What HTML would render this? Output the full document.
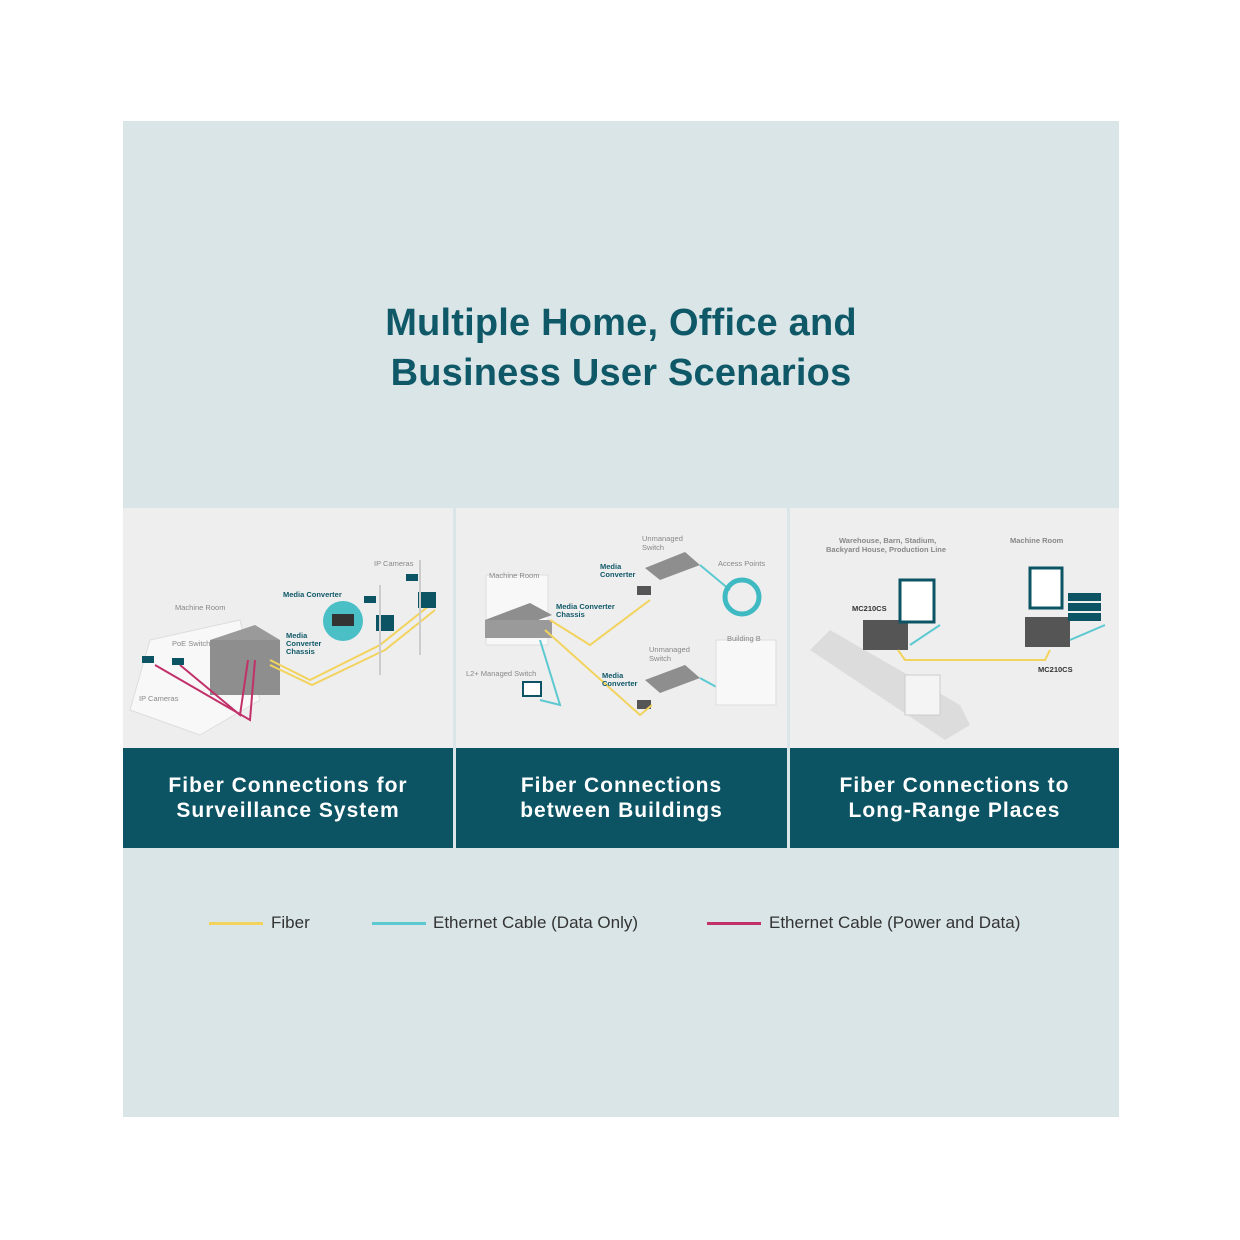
<!DOCTYPE html>
<html><head><meta charset="utf-8"><style>
body{margin:0;width:1240px;height:1240px;background:#fff;position:relative;font-family:"Liberation Sans",sans-serif;overflow:hidden}
.bg{position:absolute;left:123px;top:121px;width:996px;height:996px;background:#d9e5e6}
.title{position:absolute;left:123px;width:996px;top:298px;text-align:center;color:#0f5868;font-size:38px;line-height:50px;font-weight:bold;letter-spacing:0.2px}
.p{position:absolute;top:508px;height:240px;background:#eeeeee}
.b{position:absolute;top:748px;height:100px;background:#0c5464;color:#fff;font-weight:bold;font-size:21px;line-height:25px;text-align:center;letter-spacing:1px;display:flex;align-items:center;justify-content:center}
.lg{position:absolute;top:912px;font-size:17px;color:#333;line-height:22px}
.ln{position:absolute;top:922px;height:3px;width:54px}
svg{position:absolute;left:0;top:0}
.t{font-family:"Liberation Sans",sans-serif;font-size:7.5px;fill:#888}
.tb{font-family:"Liberation Sans",sans-serif;font-size:7.5px;fill:#0f5868;font-weight:bold}
</style></head><body>
<div class="bg"></div>
<div class="title">Multiple Home, Office and<br>Business User Scenarios</div>
<div class="p" style="left:123px;width:330px"></div>
<div class="p" style="left:456px;width:331px"></div>
<div class="p" style="left:790px;width:329px"></div>
<div class="b" style="left:123px;width:330px">Fiber Connections for<br>Surveillance System</div>
<div class="b" style="left:456px;width:331px">Fiber Connections<br>between Buildings</div>
<div class="b" style="left:790px;width:329px">Fiber Connections to<br>Long-Range Places</div>
<svg width="1240" height="1240">
<!-- panel 1 -->
<polygon points="130,710 150,640 240,620 260,700 200,735" fill="#f8f8f8" stroke="#ddd"/>
<polygon points="210,640 255,625 280,640 235,655" fill="#9a9a9a"/>
<rect x="210" y="640" width="70" height="55" fill="#8e8e8e"/>
<polyline points="155,665 250,720 255,660" fill="none" stroke="#c2306a" stroke-width="2"/>
<polyline points="180,665 240,715 248,660" fill="none" stroke="#c2306a" stroke-width="2"/>
<polyline points="270,660 310,680 380,645 430,605" fill="none" stroke="#f2d35e" stroke-width="2"/>
<polyline points="270,665 312,685 385,650 435,610" fill="none" stroke="#f2d35e" stroke-width="2"/>
<circle cx="343" cy="621" r="20" fill="#4bbfc6"/><rect x="332" y="614" width="22" height="12" fill="#333"/>
<rect x="376" y="615" width="18" height="16" fill="#0c5464"/><rect x="418" y="592" width="18" height="16" fill="#0c5464"/>
<line x1="380" y1="585" x2="380" y2="675" stroke="#ccc" stroke-width="2"/><line x1="420" y1="560" x2="420" y2="655" stroke="#ccc" stroke-width="2"/>
<rect x="142" y="656" width="12" height="7" fill="#0c5464"/><rect x="172" y="658" width="12" height="7" fill="#0c5464"/>
<rect x="364" y="596" width="12" height="7" fill="#0c5464"/><rect x="406" y="574" width="12" height="7" fill="#0c5464"/>
<text class="t" x="175" y="610">Machine Room</text><text class="t" x="374" y="566">IP Cameras</text>
<text class="t" x="139" y="701">IP Cameras</text><text class="t" x="172" y="646">PoE Switch</text>
<text class="tb" x="283" y="597">Media Converter</text>
<text class="tb" x="286" y="638">Media</text><text class="tb" x="286" y="646">Converter</text><text class="tb" x="286" y="654">Chassis</text>
<!-- panel 2 -->
<rect x="486" y="575" width="62" height="70" fill="#f8f8f8" stroke="#ddd"/>
<polygon points="485,620 530,603 552,615 505,632" fill="#8e8e8e"/><rect x="485" y="620" width="67" height="18" fill="#9a9a9a"/>
<polygon points="645,568 685,552 700,565 660,580" fill="#8e8e8e"/>
<polygon points="645,680 685,665 700,678 660,693" fill="#8e8e8e"/>
<rect x="637" y="586" width="14" height="9" fill="#555"/><rect x="637" y="700" width="14" height="9" fill="#555"/>
<polyline points="550,620 590,645 650,600" fill="none" stroke="#f2d35e" stroke-width="2"/>
<polyline points="545,630 640,715 652,705" fill="none" stroke="#f2d35e" stroke-width="2"/>
<polyline points="700,565 730,590" fill="none" stroke="#5cc9d0" stroke-width="2"/>
<polyline points="700,678 740,700 770,685" fill="none" stroke="#5cc9d0" stroke-width="2"/>
<polyline points="540,640 560,705 540,700" fill="none" stroke="#5cc9d0" stroke-width="2"/>
<circle cx="742" cy="597" r="17" fill="none" stroke="#3fb9c2" stroke-width="5"/>
<rect x="716" y="640" width="60" height="65" fill="#f8f8f8" stroke="#ddd"/>
<rect x="523" y="682" width="18" height="14" fill="#fff" stroke="#0c5464" stroke-width="2"/>
<text class="t" x="489" y="578">Machine Room</text><text class="t" x="642" y="541">Unmanaged</text><text class="t" x="642" y="550">Switch</text>
<text class="t" x="718" y="566">Access Points</text><text class="t" x="649" y="652">Unmanaged</text><text class="t" x="649" y="661">Switch</text>
<text class="t" x="727" y="641">Building B</text><text class="t" x="466" y="676">L2+ Managed Switch</text>
<text class="tb" x="600" y="569">Media</text><text class="tb" x="600" y="577">Converter</text>
<text class="tb" x="556" y="609">Media Converter</text><text class="tb" x="556" y="617">Chassis</text>
<text class="tb" x="602" y="678">Media</text><text class="tb" x="602" y="686">Converter</text>
<!-- panel 3 -->
<polygon points="810,650 830,630 960,705 970,725 945,740" fill="#dcdcdc"/>
<rect x="905" y="675" width="35" height="40" fill="#f4f4f4" stroke="#ccc"/>
<rect x="863" y="620" width="45" height="30" fill="#555"/><rect x="1025" y="617" width="45" height="30" fill="#555"/>
<rect x="900" y="580" width="34" height="42" fill="#fff" stroke="#0c5464" stroke-width="3"/>
<rect x="1030" y="568" width="32" height="40" fill="#fff" stroke="#0c5464" stroke-width="3"/>
<rect x="1068" y="593" width="33" height="8" fill="#0c5464"/><rect x="1068" y="603" width="33" height="8" fill="#0c5464"/><rect x="1068" y="613" width="33" height="8" fill="#0c5464"/>
<polyline points="898,650 905,660 1045,660 1050,650" fill="none" stroke="#f2d35e" stroke-width="2"/>
<polyline points="910,645 940,625" fill="none" stroke="#5cc9d0" stroke-width="2"/>
<polyline points="1070,640 1105,625" fill="none" stroke="#5cc9d0" stroke-width="2"/>
<text class="t" x="839" y="543" style="font-weight:bold">Warehouse, Barn, Stadium,</text>
<text class="t" x="826" y="552" style="font-weight:bold">Backyard House, Production Line</text>
<text class="t" x="1010" y="543" style="font-weight:bold">Machine Room</text>
<text class="tb" x="852" y="611" style="fill:#333">MC210CS</text><text class="tb" x="1038" y="672" style="fill:#333">MC210CS</text>
</svg>
<div class="ln" style="left:209px;background:#f2d35e"></div><div class="lg" style="left:271px">Fiber</div>
<div class="ln" style="left:372px;background:#5cc9d0"></div><div class="lg" style="left:433px">Ethernet Cable (Data Only)</div>
<div class="ln" style="left:707px;background:#c2306a"></div><div class="lg" style="left:769px">Ethernet Cable (Power and Data)</div>
</body></html>
